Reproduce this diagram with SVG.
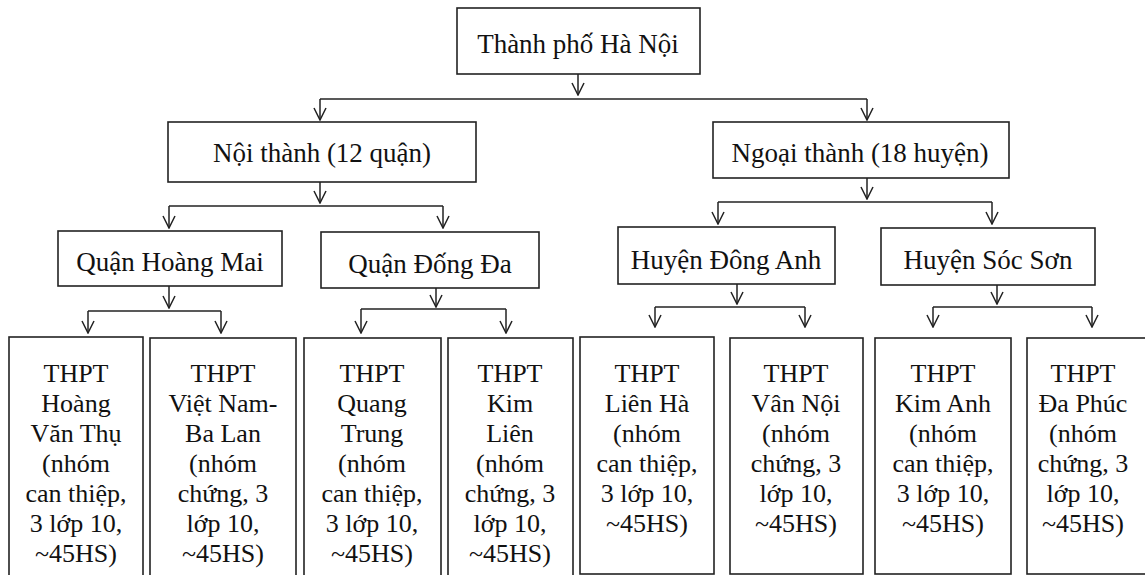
<svg xmlns="http://www.w3.org/2000/svg" width="1145" height="575" viewBox="0 0 1145 575">
<defs>
<marker id="arr" viewBox="0 0 14 14" refX="13" refY="7" markerWidth="14" markerHeight="14" markerUnits="userSpaceOnUse" orient="auto">
<path d="M1,1 L13,7 L1,13" fill="none" stroke="#222" stroke-width="1.5"/>
</marker>
<style>
.box{fill:#fff;stroke:#222;stroke-width:1.6}
.t{font-family:"Liberation Serif","Times New Roman",serif;font-size:27px;fill:#111;text-anchor:middle}
.s{font-family:"Liberation Serif","Times New Roman",serif;font-size:26px;fill:#111;text-anchor:middle}
.c{fill:none;stroke:#222;stroke-width:1.5}
.a{fill:none;stroke:#222;stroke-width:1.5;marker-end:url(#arr)}
</style>
</defs>
<rect width="1145" height="575" fill="#fff"/>

<g id="connectors">
<line class="a" x1="578" y1="74" x2="578" y2="95"/>
<polyline class="c" points="320,99 867,99"/>
<line class="a" x1="320" y1="99" x2="320" y2="120"/>
<line class="a" x1="867" y1="99" x2="867" y2="120"/>

<line class="a" x1="320" y1="182" x2="320" y2="203"/>
<polyline class="c" points="169,206 443,206"/>
<line class="a" x1="169" y1="206" x2="169" y2="228"/>
<line class="a" x1="443" y1="206" x2="443" y2="228"/>

<line class="a" x1="867" y1="178" x2="867" y2="199"/>
<polyline class="c" points="718,202 992,202"/>
<line class="a" x1="718" y1="202" x2="718" y2="224"/>
<line class="a" x1="992" y1="202" x2="992" y2="224"/>

<line class="a" x1="169" y1="286" x2="169" y2="308"/>
<polyline class="c" points="88,311 221,311"/>
<line class="a" x1="88" y1="311" x2="88" y2="333"/>
<line class="a" x1="221" y1="311" x2="221" y2="333"/>

<line class="a" x1="436" y1="288" x2="436" y2="307"/>
<polyline class="c" points="361,309 506,309"/>
<line class="a" x1="361" y1="309" x2="361" y2="333"/>
<line class="a" x1="506" y1="309" x2="506" y2="333"/>

<line class="a" x1="737" y1="284" x2="737" y2="304"/>
<polyline class="c" points="655,307 805,307"/>
<line class="a" x1="655" y1="307" x2="655" y2="327"/>
<line class="a" x1="805" y1="307" x2="805" y2="327"/>

<line class="a" x1="997" y1="285" x2="997" y2="304"/>
<polyline class="c" points="933,307 1092,307"/>
<line class="a" x1="933" y1="307" x2="933" y2="327"/>
<line class="a" x1="1092" y1="307" x2="1092" y2="327"/>
</g>

<g id="n-hanoi">
<rect class="box" x="457" y="8" width="243" height="66"/>
<text class="t" x="578" y="53">Thành phố Hà Nội</text>
</g>
<g id="n-noithanh">
<rect class="box" x="168" y="122" width="308" height="60"/>
<text class="t" x="322" y="162">Nội thành (12 quận)</text>
</g>
<g id="n-ngoaithanh">
<rect class="box" x="713" y="122" width="296" height="56"/>
<text class="t" x="860" y="162">Ngoại thành (18 huyện)</text>
</g>
<g id="n-hoangmai">
<rect class="box" x="58" y="231" width="224" height="55"/>
<text class="t" x="170" y="271">Quận Hoàng Mai</text>
</g>
<g id="n-dongda">
<rect class="box" x="321" y="232" width="218" height="56"/>
<text class="t" x="430" y="273">Quận Đống Đa</text>
</g>
<g id="n-donganh">
<rect class="box" x="618" y="227" width="217" height="57"/>
<text class="t" x="726" y="269">Huyện Đông Anh</text>
</g>
<g id="n-socson">
<rect class="box" x="881" y="228" width="214" height="57"/>
<text class="t" x="988" y="269">Huyện Sóc Sơn</text>
</g>

<g id="n-hvt">
<rect class="box" x="9" y="337" width="134" height="250"/>
<text class="s" x="76" y="382"><tspan x="76">THPT</tspan><tspan x="76" dy="30">Hoàng</tspan><tspan x="76" dy="30">Văn Thụ</tspan><tspan x="76" dy="30">(nhóm</tspan><tspan x="76" dy="30">can thiệp,</tspan><tspan x="76" dy="30">3 lớp 10,</tspan><tspan x="76" dy="30">~45HS)</tspan></text>
</g>
<g id="n-vnbl">
<rect class="box" x="150" y="338" width="146" height="250"/>
<text class="s" x="223" y="382"><tspan x="223">THPT</tspan><tspan x="223" dy="30">Việt Nam-</tspan><tspan x="223" dy="30">Ba Lan</tspan><tspan x="223" dy="30">(nhóm</tspan><tspan x="223" dy="30">chứng, 3</tspan><tspan x="223" dy="30">lớp 10,</tspan><tspan x="223" dy="30">~45HS)</tspan></text>
</g>
<g id="n-qt">
<rect class="box" x="304" y="338" width="137" height="250"/>
<text class="s" x="372" y="382"><tspan x="372">THPT</tspan><tspan x="372" dy="30">Quang</tspan><tspan x="372" dy="30">Trung</tspan><tspan x="372" dy="30">(nhóm</tspan><tspan x="372" dy="30">can thiệp,</tspan><tspan x="372" dy="30">3 lớp 10,</tspan><tspan x="372" dy="30">~45HS)</tspan></text>
</g>
<g id="n-kl">
<rect class="box" x="448" y="338" width="125" height="250"/>
<text class="s" x="510" y="382"><tspan x="510">THPT</tspan><tspan x="510" dy="30">Kim</tspan><tspan x="510" dy="30">Liên</tspan><tspan x="510" dy="30">(nhóm</tspan><tspan x="510" dy="30">chứng, 3</tspan><tspan x="510" dy="30">lớp 10,</tspan><tspan x="510" dy="30">~45HS)</tspan></text>
</g>
<g id="n-lh">
<rect class="box" x="580" y="337" width="134" height="237"/>
<text class="s" x="647" y="382"><tspan x="647">THPT</tspan><tspan x="647" dy="30">Liên Hà</tspan><tspan x="647" dy="30">(nhóm</tspan><tspan x="647" dy="30">can thiệp,</tspan><tspan x="647" dy="30">3 lớp 10,</tspan><tspan x="647" dy="30">~45HS)</tspan></text>
</g>
<g id="n-vn">
<rect class="box" x="730" y="338" width="133" height="236"/>
<text class="s" x="796" y="382"><tspan x="796">THPT</tspan><tspan x="796" dy="30">Vân Nội</tspan><tspan x="796" dy="30">(nhóm</tspan><tspan x="796" dy="30">chứng, 3</tspan><tspan x="796" dy="30">lớp 10,</tspan><tspan x="796" dy="30">~45HS)</tspan></text>
</g>
<g id="n-ka">
<rect class="box" x="875" y="338" width="136" height="236"/>
<text class="s" x="943" y="382"><tspan x="943">THPT</tspan><tspan x="943" dy="30">Kim Anh</tspan><tspan x="943" dy="30">(nhóm</tspan><tspan x="943" dy="30">can thiệp,</tspan><tspan x="943" dy="30">3 lớp 10,</tspan><tspan x="943" dy="30">~45HS)</tspan></text>
</g>
<g id="n-dp">
<rect class="box" x="1027" y="338" width="125" height="236"/>
<text class="s" x="1083" y="382"><tspan x="1083">THPT</tspan><tspan x="1083" dy="30">Đa Phúc</tspan><tspan x="1083" dy="30">(nhóm</tspan><tspan x="1083" dy="30">chứng, 3</tspan><tspan x="1083" dy="30">lớp 10,</tspan><tspan x="1083" dy="30">~45HS)</tspan></text>
</g>
</svg>
